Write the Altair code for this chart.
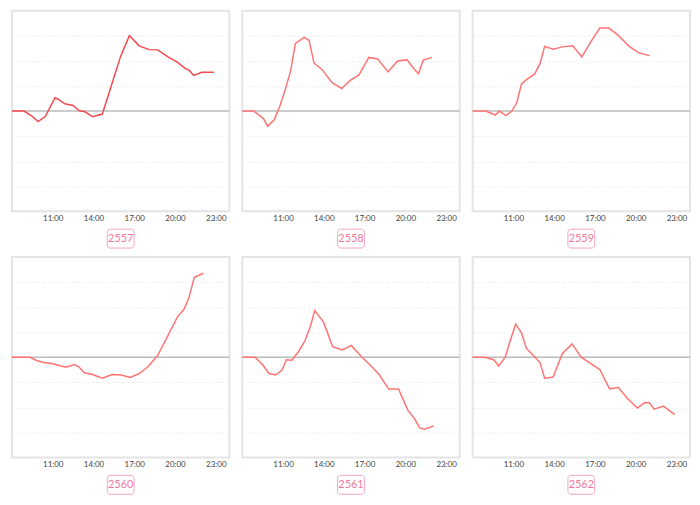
import altair as alt
import pandas as pd

labels = ["2557", "2558", "2559", "2560", "2561", "2562"]

t1 = [8.0, 8.89, 9.44, 9.92, 10.45, 11.17, 11.4, 11.89, 12.49, 12.97, 13.38, 13.93, 14.65,
      16.0, 16.64, 17.36, 18.08, 18.73, 19.45, 20.17, 20.72, 21.05, 21.37, 21.97, 22.86]
v1 = [0, 0, -0.19, -0.42, -0.22, 0.53, 0.47, 0.29, 0.22, 0.01, -0.03, -0.23, -0.12,
      2.19, 3.01, 2.6, 2.45, 2.44, 2.17, 1.95, 1.71, 1.62, 1.42, 1.55, 1.55]

t2 = [8.0, 8.84, 9.56, 9.87, 10.35, 10.76, 11.12, 11.55, 11.91, 12.56, 12.92, 13.28, 13.88,
      14.6, 15.32, 15.97, 16.59, 17.31, 17.96, 18.73, 19.4, 20.12, 20.6, 20.96, 21.32, 21.97]
v2 = [0, 0, -0.3, -0.61, -0.35, 0.19, 0.78, 1.58, 2.7, 2.94, 2.82, 1.91, 1.65,
      1.13, 0.9, 1.23, 1.44, 2.14, 2.08, 1.56, 1.99, 2.05, 1.71, 1.49, 2.03, 2.14]

t3 = [8.0, 8.96, 9.68, 9.97, 10.45, 10.88, 11.24, 11.6, 12.01, 12.56, 12.97, 13.3, 13.93,
      14.6, 15.37, 16.04, 16.64, 17.36, 18.03, 18.68, 19.52, 20.24, 21.01]
v3 = [0, 0, -0.16, 0, -0.18, -0.01, 0.31, 1.08, 1.27, 1.47, 1.9, 2.58, 2.47,
      2.56, 2.6, 2.16, 2.71, 3.31, 3.31, 3.04, 2.58, 2.32, 2.21]

t4 = [8.0, 9.32, 9.85, 10.33, 10.93, 11.41, 11.96, 12.61, 12.92, 13.33, 13.93, 14.65,
      15.37, 16.04, 16.69, 17.34, 18.01, 18.73, 19.45, 20.17, 20.65, 21.01, 21.42, 22.09]
v4 = [0, 0, -0.14, -0.21, -0.25, -0.32, -0.4, -0.29, -0.38, -0.62, -0.69, -0.84,
      -0.69, -0.71, -0.81, -0.66, -0.38, 0.08, 0.83, 1.6, 1.9, 2.35, 3.19, 3.35]

t5 = [8.0, 8.94, 9.49, 9.97, 10.45, 10.93, 11.24, 11.65, 12.13, 12.61, 13.02, 13.33, 13.98,
      14.65, 15.37, 16.02, 16.81, 17.41, 18.08, 18.78, 19.5, 20.17, 20.65, 21.06, 21.42, 22.09]
v5 = [0, 0, -0.29, -0.65, -0.71, -0.51, -0.1, -0.12, 0.22, 0.65, 1.25, 1.86, 1.4,
      0.42, 0.29, 0.47, 0, -0.31, -0.7, -1.27, -1.27, -2.1, -2.43, -2.82, -2.87, -2.74]

t6 = [8.0, 8.89, 9.56, 9.92, 10.4, 10.76, 11.17, 11.6, 11.96, 12.44, 12.97, 13.3, 13.93,
      14.6, 15.32, 15.99, 16.64, 17.36, 18.08, 18.73, 19.4, 20.12, 20.65, 21.01, 21.37, 22.04, 22.88]
v6 = [0, 0, -0.1, -0.35, 0, 0.65, 1.32, 0.97, 0.35, 0.09, -0.22, -0.84, -0.79,
      0.14, 0.53, 0, -0.23, -0.49, -1.26, -1.21, -1.65, -2.03, -1.82, -1.82, -2.07, -1.95, -2.29]

times = [t1, t2, t3, t4, t5, t6]
values = [v1, v2, v3, v4, v5, v6]
line_colors = ["#f5484e", "#ff7373", "#ff7373", "#ff7373", "#ff7373", "#ff7373"]

x_ticks = [11, 14, 17, 20, 23]
y_grid = [-3, -2, -1, 1, 2, 3]

W, H = 219, 202
FONT = "Lato"


def panel(i):
    df = pd.DataFrame({"h": times[i], "v": values[i]})
    lab = pd.DataFrame({"label": [labels[i]]})
    xs = alt.Scale(domain=[8, 24], nice=False, zero=False)
    ys = alt.Scale(domain=[-4, 4], nice=False)
    x = alt.X("h:Q", scale=xs, axis=alt.Axis(
        values=x_ticks, labelExpr="datum.value + ':00'", title=None, grid=False,
        ticks=False, domain=False, labelFontSize=8, labelColor="#444",
        labelPadding=3, labelFont=FONT))
    y_axis = alt.Axis(
        values=y_grid, labels=False, ticks=False, domain=False, title=None,
        grid=True, gridColor="#efefef", gridDash=[3, 2], gridWidth=1)
    y = alt.Y("v:Q", scale=ys, axis=y_axis)

    zero = alt.Chart(pd.DataFrame({"v": [0]})).mark_rule(
        color="#bbbbbb", strokeWidth=1.5).encode(y=y)
    line = alt.Chart(df).mark_line(color=line_colors[i], strokeWidth=1.5).encode(x=x, y=y)
    box = alt.Chart(lab).mark_rect(
        fill="white", stroke="#f5a3bd", strokeWidth=1, cornerRadius=3).encode(
        x=alt.value(W / 2 - 13.5), x2=alt.value(W / 2 + 13.5),
        y=alt.value(H + 18), y2=alt.value(H + 37))
    txt = alt.Chart(lab).mark_text(
        color="#f0779d", fontSize=11, font=FONT, baseline="middle", align="center").encode(
        x=alt.value(W / 2), y=alt.value(H + 27.5), text="label:N")
    return alt.layer(zero, line, box, txt).properties(width=W, height=H)


row1 = alt.hconcat(panel(0), panel(1), panel(2), spacing=7)
row2 = alt.hconcat(panel(3), panel(4), panel(5), spacing=7)
chart = alt.vconcat(row1, row2, spacing=6).properties(
    padding={"left": 0, "top": 0, "right": 0, "bottom": 0}
).configure(background="white", padding=0).configure_view(
    stroke="#e4e4e4", strokeWidth=2)

chart.save("out.html", embed_options={"renderer": "svg", "actions": False})
